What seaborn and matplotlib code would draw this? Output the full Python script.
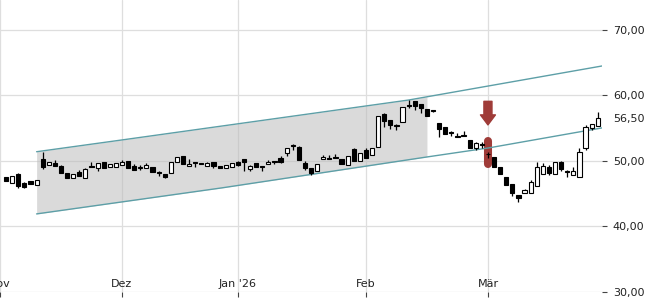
import numpy as np
import pandas as pd
import matplotlib
matplotlib.use("Agg")
import matplotlib.pyplot as plt
import seaborn as sns

# ---- data ----
opens = [47.56, 46.64, 48.02, 46.64, 46.95, 46.34, 50.31, 49.39, 49.69, 49.24,
         48.17, 47.40, 48.32, 47.40, 49.24, 48.93, 49.85, 49.08, 49.08, 49.39,
         50.00, 49.24, 48.90, 48.93, 49.08, 48.20, 48.02, 48.17, 49.85, 50.76,
         49.24, 49.85, 49.69, 49.24, 49.85, 49.24, 48.93, 49.08, 49.85, 50.31,
         48.78, 49.69, 49.10, 49.54, 49.87, 50.46, 51.22, 52.31, 52.14, 49.69,
         48.93, 48.47, 50.31, 50.46, 50.61, 50.31, 49.39, 51.83, 50.00, 51.68,
         50.92, 52.14, 57.18, 56.26, 55.36, 55.95, 58.42, 59.16, 58.70, 57.94,
         57.65, 55.80, 55.19, 54.29, 53.68, 53.84, 53.21, 51.98, 52.46, 51.10,
         50.61, 49.08, 47.56, 46.49, 44.81, 45.11, 45.11, 46.18, 48.02, 49.08,
         48.02, 49.85, 48.34, 47.86, 47.56, 51.98, 55.04, 55.34]
highs = [47.60, 47.75, 48.10, 46.70, 47.00, 47.15, 51.37, 49.90, 50.15, 49.30,
         48.20, 48.05, 48.63, 48.93, 49.85, 49.75, 49.90, 49.60, 49.75, 50.15,
         50.05, 49.54, 49.39, 49.69, 49.10, 48.47, 48.05, 49.90, 50.65, 50.80,
         50.31, 49.90, 49.72, 49.85, 49.90, 49.26, 49.42, 49.72, 50.00, 50.35,
         49.30, 49.75, 49.10, 50.15, 49.90, 50.76, 52.00, 52.60, 52.20, 50.00,
         48.95, 49.60, 50.92, 50.92, 51.07, 50.35, 50.80, 51.90, 51.25, 51.98,
         52.00, 56.90, 57.25, 56.30, 55.65, 58.30, 59.31, 59.20, 58.75, 58.00,
         57.79, 55.85, 55.25, 54.58, 54.27, 54.58, 53.25, 52.90, 52.90, 51.40,
         50.65, 49.10, 47.60, 46.50, 44.85, 45.65, 47.10, 49.85, 49.69, 49.30,
         49.90, 50.00, 48.63, 49.08, 51.98, 55.50, 55.70, 57.48]
lows = [46.90, 46.60, 45.88, 45.88, 46.45, 46.30, 48.78, 49.35, 49.20, 48.10,
        47.35, 47.35, 47.65, 47.35, 49.05, 48.47, 48.90, 49.05, 49.05, 49.35,
        48.90, 48.60, 48.63, 48.90, 48.30, 47.71, 47.40, 48.10, 49.80, 49.50,
        49.20, 49.08, 49.50, 49.20, 48.93, 48.90, 48.90, 49.05, 49.24, 48.47,
        48.47, 49.05, 48.47, 49.50, 49.54, 49.69, 50.76, 51.68, 50.10, 48.63,
        47.86, 48.45, 50.30, 50.30, 50.45, 49.50, 49.35, 49.95, 49.95, 50.40,
        50.90, 52.10, 55.19, 54.89, 54.73, 55.90, 58.09, 57.79, 57.33, 56.80,
        57.48, 53.66, 54.10, 53.82, 53.60, 53.78, 51.95, 51.68, 51.98, 50.40,
        49.00, 48.00, 46.30, 44.66, 43.74, 45.10, 45.10, 46.10, 47.95, 47.90,
        47.95, 48.47, 47.56, 47.80, 47.50, 51.68, 54.73, 55.30]
closes = [46.95, 47.71, 46.18, 46.03, 46.49, 47.10, 49.08, 49.85, 49.24, 48.17,
          47.40, 48.02, 47.71, 48.78, 49.08, 49.69, 48.93, 49.54, 49.69, 49.85,
          48.93, 48.63, 48.95, 49.39, 48.32, 48.15, 47.56, 49.85, 50.61, 49.54,
          49.54, 49.69, 49.54, 49.69, 49.24, 48.93, 49.39, 49.69, 49.39, 49.85,
          49.24, 49.08, 49.06, 49.85, 49.83, 49.85, 51.98, 52.27, 50.15, 48.93,
          48.17, 49.54, 50.61, 50.31, 50.46, 49.54, 50.76, 50.00, 51.22, 50.46,
          51.98, 56.87, 56.11, 55.50, 55.32, 58.24, 58.38, 58.40, 58.09, 56.87,
          57.61, 54.89, 54.12, 54.25, 53.64, 53.80, 51.98, 52.75, 52.42, 51.00,
          49.08, 48.02, 46.34, 45.11, 44.35, 45.57, 46.79, 49.08, 49.24, 48.17,
          49.85, 48.78, 48.30, 48.47, 51.37, 55.19, 55.65, 56.50]

month_pos = [-1, 19, 38, 59, 79]
month_labels = ["Nov", "Dez", "Jan '26", "Feb", "Mär"]
y_ticks = [30, 40, 50, 56.5, 60, 70]
y_labels = ["30,00", "40,00", "50,00", "56,50", "60,00", "70,00"]

# trend channel, points read along each boundary (x = candle index)
upper_x = [5, 19, 66, 97.7]
upper_y = [51.4, 53.2, 59.3, 64.5]
lower_x = [5, 35.4, 69, 79.1, 97.7]
lower_y = [41.9, 45.88, 50.6, 51.98, 55.04]
channel_fill_end = 69
signal_idx = 79

# ---- figure ----
sns.set_theme(style="white")
plt.rcParams["font.family"] = ["DejaVu Sans"]

fig = plt.figure(figsize=(6.5, 3.0), dpi=100)
ax = fig.add_axes([0, 8 / 300, 602 / 650, 292 / 300])

n = len(opens)
idx = np.arange(n)
df = pd.DataFrame({"i": idx, "o": opens, "h": highs, "l": lows, "c": closes})

# channel fill (between the read boundary points, up to the end of the fill)
xf = np.linspace(upper_x[0], channel_fill_end, 80)
up_f = np.interp(xf, upper_x, upper_y)
lo_f = np.interp(xf, lower_x, lower_y)
ax.fill_between(xf, lo_f, up_f, color="#bdbdbd", alpha=0.55, lw=0, zorder=1)

# channel lines
line_df = pd.DataFrame({"x": upper_x + lower_x,
                        "y": upper_y + lower_y,
                        "band": ["u"] * len(upper_x) + ["l"] * len(lower_x)})
sns.lineplot(data=line_df, x="x", y="y", units="band", estimator=None, sort=False,
             color="#5d9fa7", lw=1.0, ax=ax, zorder=3, legend=False)

# signal marker (red)
sig_hi = df.loc[signal_idx, "h"]
sig_lo = df.loc[signal_idx, "l"]
ax.plot([signal_idx, signal_idx], [sig_lo - 0.9, sig_hi + 1.7], color="#9f3b38",
        lw=5.8, solid_capstyle="round", zorder=2)
ax.annotate("", xy=(signal_idx, sig_hi + 4.1), xytext=(signal_idx, sig_hi + 7.7),
            arrowprops=dict(arrowstyle="simple,head_length=0.72,head_width=1.08,tail_width=0.58",
                            color="#9f3b38", shrinkA=0, shrinkB=0, mutation_scale=10),
            zorder=2)

# candles
ax.vlines(df["i"], df["l"], df["h"], color="black", lw=0.9, zorder=4)
body_lo = np.minimum(df["o"], df["c"])
body_h = np.maximum(np.abs(df["c"] - df["o"]), 0.12)
up = df["c"] >= df["o"]
ax.bar(df["i"][up], body_h[up], bottom=body_lo[up], width=0.68, color="white",
       edgecolor="black", lw=0.8, zorder=5)
ax.bar(df["i"][~up], body_h[~up], bottom=body_lo[~up], width=0.68, color="black",
       edgecolor="black", lw=0.8, zorder=5)

# axes
ax.set_xlim(-0.49, 97.7)
ax.set_ylim(29.97, 74.58)
for s in ax.spines.values():
    s.set_visible(False)

ax.set_xticks(month_pos)
ax.set_xticklabels(month_labels)
ax.yaxis.tick_right()
ax.set_yticks(y_ticks)
ax.set_yticklabels(y_labels)
ax.tick_params(axis="x", direction="out", length=3.5, width=0.8, color="#444444",
               pad=-13, labelsize=8, labelcolor="#222222", bottom=True)
ax.tick_params(axis="y", direction="out", length=3.6, width=0.8, color="#444444",
               pad=4.2, labelsize=8, labelcolor="#222222", right=True, left=False)
ax.grid(True, color="#dedede", lw=0.9, zorder=0)
ax.set_axisbelow(True)
for t, v in zip(ax.yaxis.get_major_ticks(), y_ticks):
    if v == 56.5:
        t.tick2line.set_visible(False)
        t.gridline.set_visible(False)
for lab in ax.get_yticklabels():
    lab.set_clip_on(False)
ax.set_xlabel("")
ax.set_ylabel("")

fig.savefig("out.png", dpi=100)
